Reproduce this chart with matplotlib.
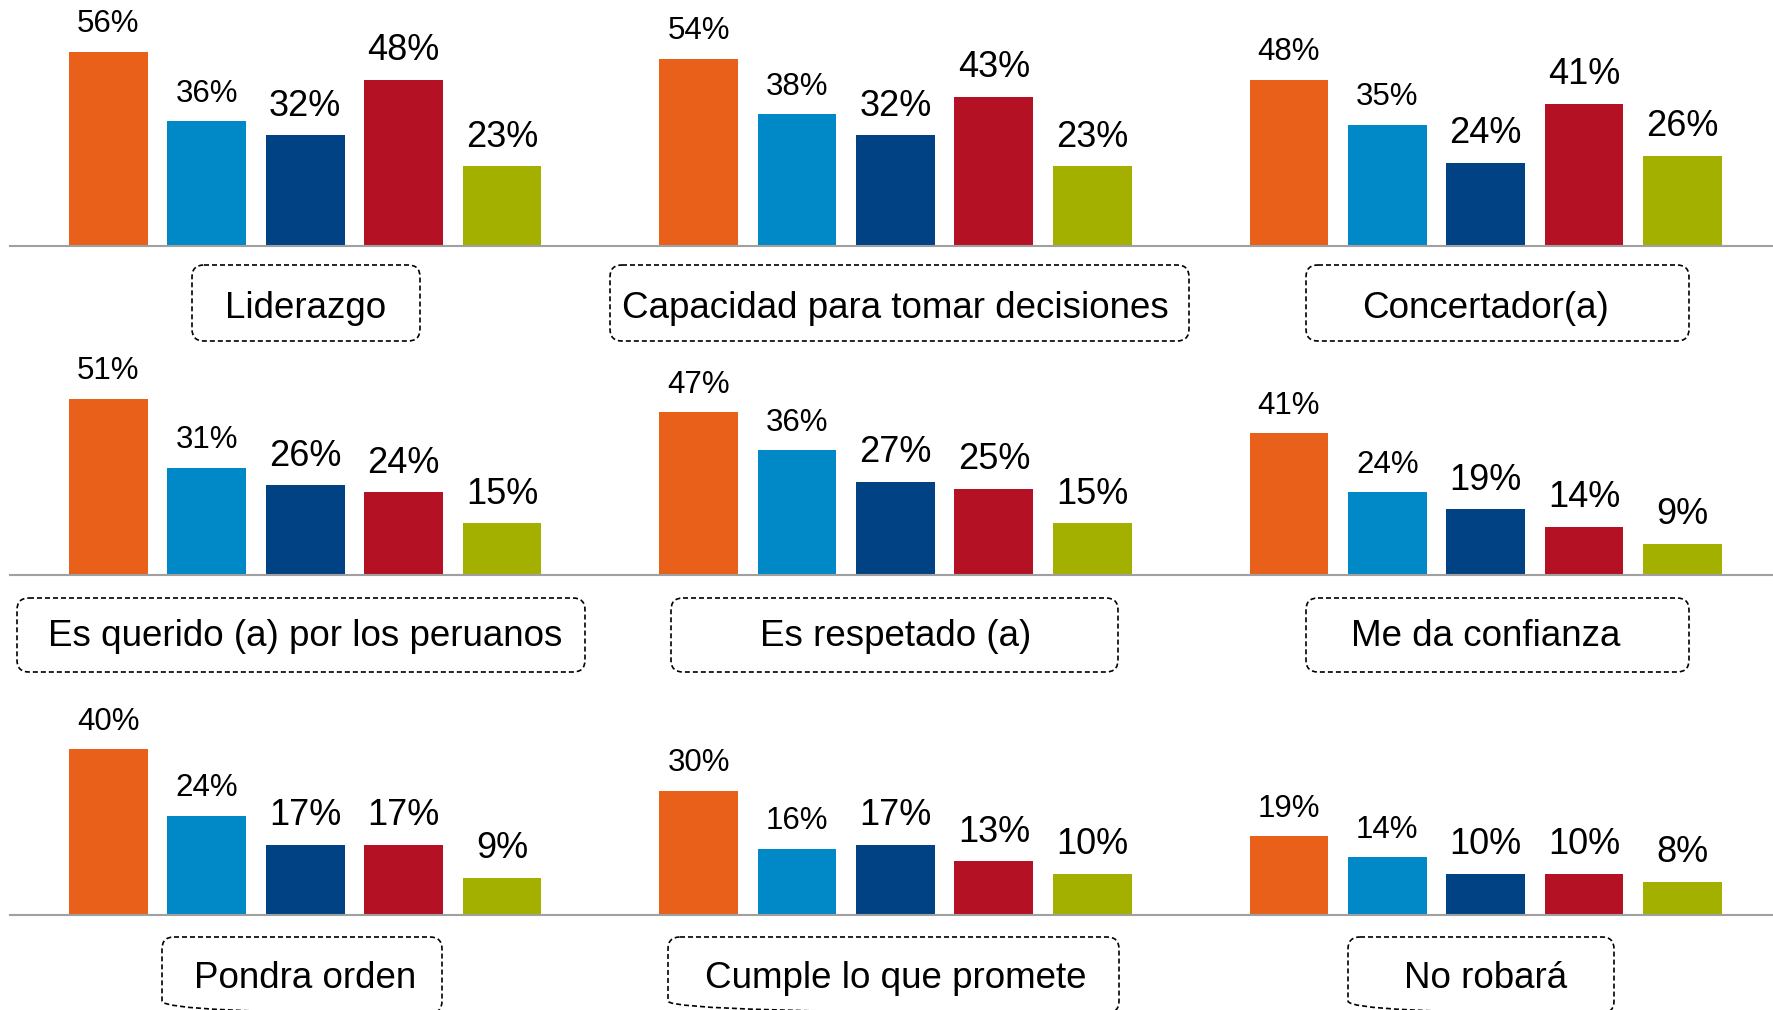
import matplotlib.pyplot as plt
from matplotlib.patches import FancyBboxPatch
from matplotlib.transforms import blended_transform_factory

plt.rcParams['font.family'] = ['Liberation Sans', 'DejaVu Sans']

# data: one list per panel, five series each
categories = [
    ["Liderazgo", "Capacidad para tomar decisiones", "Concertador(a)"],
    ["Es querido (a) por los peruanos", "Es respetado (a)", "Me da confianza"],
    ["Pondra orden", "Cumple lo que promete", "No robará"],
]
values = [
    [[56, 36, 32, 48, 23], [54, 38, 32, 43, 23], [48, 35, 24, 41, 26]],
    [[51, 31, 26, 24, 15], [47, 36, 27, 25, 15], [41, 24, 19, 14, 9]],
    [[40, 24, 17, 17, 9], [30, 16, 17, 13, 10], [19, 14, 10, 10, 8]],
]
colors = ["#E8601A", "#0088C7", "#004284", "#B41224", "#A3B000"]
label_sizes = [22.5, 22.5, 26, 26, 26]

W, H = 1774, 1010
fig = plt.figure(figsize=(W / 100, H / 100), dpi=100)

# pixel canvas for the dashed label boxes
canvas = fig.add_axes([0, 0, 1, 1])
canvas.set_xlim(0, W)
canvas.set_ylim(H, 0)
canvas.axis("off")

# row layout in pixels (baseline from top, px per percent)
row_base = [245.7, 575, 915]
row_scale = [3.46, 3.46, 4.14]

box_x = [
    [(192, 420), (610, 1189), (1306, 1689)],
    [(17, 585), (671, 1118), (1306, 1689)],
    [(162, 442), (668, 1119), (1348, 1614)],
]
box_y = [(265, 341), (598, 672), (937, 1013)]
text_y = [318, 646, 988]

for r in range(3):
    bottom = (H - row_base[r]) / H
    height = 60 * row_scale[r] / H
    ax = fig.add_axes([10 / W, bottom, (W - 10) / W, height])
    for p in range(3):
        for i, v in enumerate(values[r][p]):
            x = p * 6 + i
            ax.bar(x, v, width=0.8, color=colors[i])
            ax.annotate(f"{v}%", (x, v), xytext=(0, 14), textcoords="offset points",
                        ha="center", va="baseline", fontsize=label_sizes[i],
                        annotation_clip=False)
    ax.set_xlim(-1.0, 16.93)
    ax.set_ylim(0, 60)
    for s in ["top", "left", "right"]:
        ax.spines[s].set_visible(False)
    ax.spines["bottom"].set_color("#A0A0A0")
    ax.spines["bottom"].set_linewidth(1.5)
    ax.set_xticks([])
    ax.set_yticks([])
    ax.patch.set_alpha(0)

    trans = blended_transform_factory(ax.transData, canvas.transData)
    for p in range(3):
        x0, x1 = box_x[r][p]
        y0, y1 = box_y[r]
        canvas.add_patch(FancyBboxPatch((x0, y0), x1 - x0, y1 - y0,
                                        boxstyle="round,pad=0,rounding_size=12",
                                        fill=False, edgecolor="black", linewidth=1.2,
                                        linestyle=(0, (3, 1.8)), clip_on=False))
        ax.text(p * 6 + 2, text_y[r], categories[r][p], transform=trans,
                ha="center", va="baseline", fontsize=26.5, clip_on=False)

fig.savefig("out.png", dpi=100)
